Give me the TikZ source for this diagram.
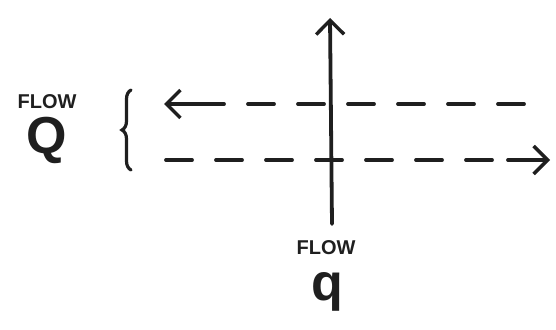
\documentclass[tikz,border=0pt]{standalone}
\usepackage{fontspec}
\setmainfont{Liberation Sans}
\usetikzlibrary{arrows.meta,decorations.pathreplacing}
\begin{document}
\begin{tikzpicture}[x=1pt,y=-1pt,
  ink/.style={line width=3.8pt,line cap=round,draw=black!88},
  dashline/.style={ink,dash pattern=on 26pt off 24pt},
  headtip/.style={-{Straight Barb[length=14pt,width=28pt,line width=3.4pt]}},
  lbl/.style={inner sep=0pt,font=\bfseries\fontsize{20}{20}\selectfont,text=black!88},
  big/.style={inner sep=0pt,font=\bfseries\fontsize{52}{52}\selectfont,text=black!88}]
\useasboundingbox (0,0) rectangle (556,329);
% coordinates
\coordinate (tl) at (164,104);
\coordinate (tr) at (524,104);
\coordinate (bl) at (166,160);
\coordinate (br) at (550,160);
\coordinate (vb) at (332,224);
\coordinate (vt) at (330,18);
\coordinate (tlm) at (205,104);
\coordinate (brm) at (508,160);
% horizontal dashed flows
\draw[dashline] (tr) -- (tlm);
\draw[ink,headtip] (tlm) -- (tl);
\draw[dashline] (bl) -- (brm);
\draw[ink,headtip] (brm) -- (br);
% vertical flow
\draw[ink,headtip] (vb) -- (vt);
% brace
\draw[ink,line width=3.2pt,decorate,decoration={brace,amplitude=9pt}] (131,170) -- (131,90);
% labels
\node[lbl] (flowQ) at (47,102) {FLOW};
\node[big] (Q) at (47,140) {Q};
\node[lbl] (flowq) at (326,248) {FLOW};
\node[big] (q) at (327,292) {q};
\end{tikzpicture}
\end{document}
